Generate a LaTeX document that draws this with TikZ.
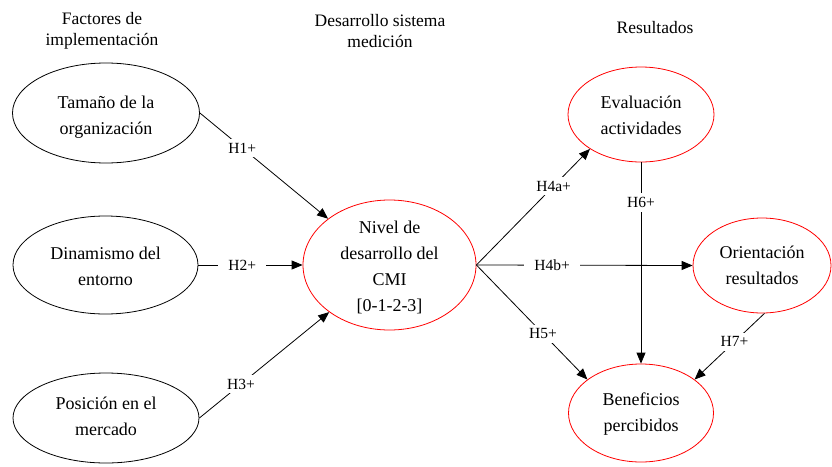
\documentclass[tikz,border=0pt]{standalone}
\usepackage{fontspec}
\setmainfont{Liberation Serif}
\usetikzlibrary{shapes.geometric,arrows.meta}
\begin{document}
\begin{tikzpicture}[x=1pt,y=-1pt,
  ellbox/.style={ellipse, line width=0.8pt, inner sep=0pt},
  blackell/.style={ellbox, draw=black},
  redell/.style={ellbox, draw=red},
  elltext/.style={align=center, font=\fontsize{18}{26}\selectfont, inner sep=0pt},
  heading/.style={align=center, font=\fontsize{17.5}{21.5}\selectfont, inner sep=0pt},
  link/.style={draw=black, line width=0.8pt, -{Triangle[length=11pt,width=9pt]}},
  hyp/.style={fill=white, font=\fontsize{15.5}{18}\selectfont, inner xsep=10pt, inner ysep=4pt},
]
\useasboundingbox (0,0) rectangle (832,466);

% column headings
\node[heading] (headA) at (102,31) {Factores de\\implementación};
\node[heading] (headB) at (380,31) {Desarrollo sistema\\medición};
\node[heading] (headC) at (655,28) {Resultados};

% implementation factors
\node[blackell, minimum width=187, minimum height=100] (tam) at (106,113) {};
\node[elltext] (tamT) at (106,117) {Tamaño de la\\organización};
\node[blackell, minimum width=185, minimum height=98] (din) at (105.5,265) {};
\node[elltext] (dinT) at (105.5,266) {Dinamismo del\\entorno};
\node[blackell, minimum width=186, minimum height=90] (pos) at (106,418) {};
\node[elltext] (posT) at (106,416) {Posición en el\\mercado};

% measurement system
\node[redell, minimum width=173, minimum height=130] (niv) at (389.5,265) {};
\node[elltext] (nivT) at (389.5,267) {Nivel de\\desarrollo del\\CMI\\{[0-1-2-3]}};

% outcomes
\node[redell, minimum width=146, minimum height=95] (eva) at (641,114.5) {};
\node[elltext] (evaT) at (641,115) {Evaluación\\actividades};
\node[redell, minimum width=138, minimum height=95] (ori) at (762,265.5) {};
\node[elltext] (oriT) at (762,265) {Orientación\\resultados};
\node[redell, minimum width=145, minimum height=98] (ben) at (641,413) {};
\node[elltext] (benT) at (641,414) {Beneficios\\percibidos};

% hypotheses
\draw[link] (tam.east) -- node[hyp, pos=0.33] {H1+} (niv.143);
\draw[link] (din.east) -- node[hyp, pos=0.42] {H2+} (niv.west);
\draw[link] (pos.east) -- node[hyp, pos=0.32] {H3+} (niv.218);
\draw[link] (niv.east) -- node[hyp, pos=0.68] {H4a+} (eva.214);
\draw[link] (eva.south) -- node[hyp, pos=0.2] {H6+} (ben.north);
\draw[link] (niv.east) -- node[hyp, pos=0.35] {H4b+} (ori.west);
\draw[link] (niv.east) -- node[hyp, pos=0.6] {H5+} (ben.148);
\draw[link] (ori.273) -- node[hyp, pos=0.43] {H7+} (ben.32);
\end{tikzpicture}
\end{document}
